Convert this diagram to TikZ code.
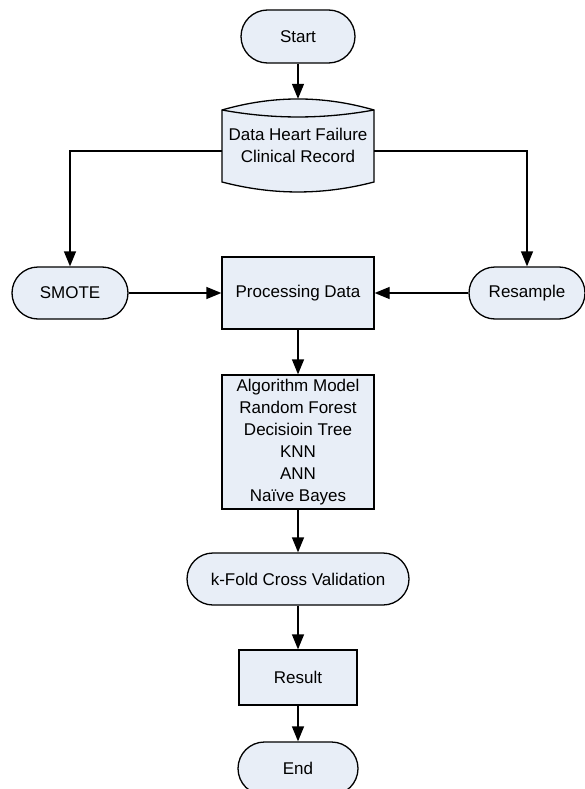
\documentclass[tikz,border=0pt]{standalone}
\usepackage{fontspec}
\setmainfont{Liberation Sans}
\usetikzlibrary{arrows.meta,shapes.misc}
\definecolor{boxfill}{RGB}{232,238,247}
\begin{document}
\begin{tikzpicture}[x=1pt,y=-1pt,
  every node/.style={font=\fontsize{17}{22}\selectfont, align=center, inner sep=0pt},
  term/.style={rounded rectangle, draw, line width=1.3pt, fill=boxfill},
  procbox/.style={rectangle, draw, line width=1.3pt, fill=boxfill},
  arr/.style={line width=1.3pt, -{Triangle[length=15pt,width=12pt]}}]
\useasboundingbox (0,0) rectangle (585,789);
\clip (0,0) rectangle (585,789);
\fill[white] (0,0) rectangle (585,789);
% data store shape
\draw[line width=1.3pt, fill=boxfill] (222,110) .. controls (273,95.3) and (323,95.3) .. (374,110)
  -- (374,182) .. controls (323,195.3) and (273,195.3) .. (222,182) -- cycle;
\draw[line width=1.3pt] (222,110) .. controls (273,119.3) and (323,119.3) .. (374,110);
\node (data) [minimum width=152pt, minimum height=93pt] at (298,145.5) {Data Heart Failure\\Clinical Record};

\node (start) [term, minimum width=114pt, minimum height=53pt] at (298,36.5) {Start};
\node (smote) [term, minimum width=116pt, minimum height=52pt] at (70,293) {SMOTE};
\node (resample) [term, minimum width=116pt, minimum height=52pt] at (527,293) {Resample};
\node (proc) [procbox, minimum width=152pt, minimum height=72pt] at (298,293) {Processing Data};
\node (algo) [procbox, minimum width=152pt, minimum height=134pt] at (298,442) {Algorithm Model\\Random Forest\\Decisioin Tree\\KNN\\ANN\\Na\"{\i}ve Bayes};
\node (kfold) [term, minimum width=222pt, minimum height=52pt] at (298,579) {k-Fold Cross Validation};
\node (result) [procbox, minimum width=118pt, minimum height=55pt] at (298,677.5) {Result};
\node (endn) [term, minimum width=120pt, minimum height=53pt] at (298,768.5) {End};

\draw[arr] (start.south) -- (data.north);
\draw[arr] ([yshift=-5.5pt]data.west) -| (smote.north);
\draw[arr] ([yshift=-5.5pt]data.east) -| (resample.north);
\draw[arr] (smote.east) -- (proc.west);
\draw[arr] (resample.west) -- (proc.east);
\draw[arr] (proc.south) -- (algo.north);
\draw[arr] (algo.south) -- (kfold.north);
\draw[arr] (kfold.south) -- (result.north);
\draw[arr] (result.south) -- (endn.north);
\end{tikzpicture}
\end{document}
